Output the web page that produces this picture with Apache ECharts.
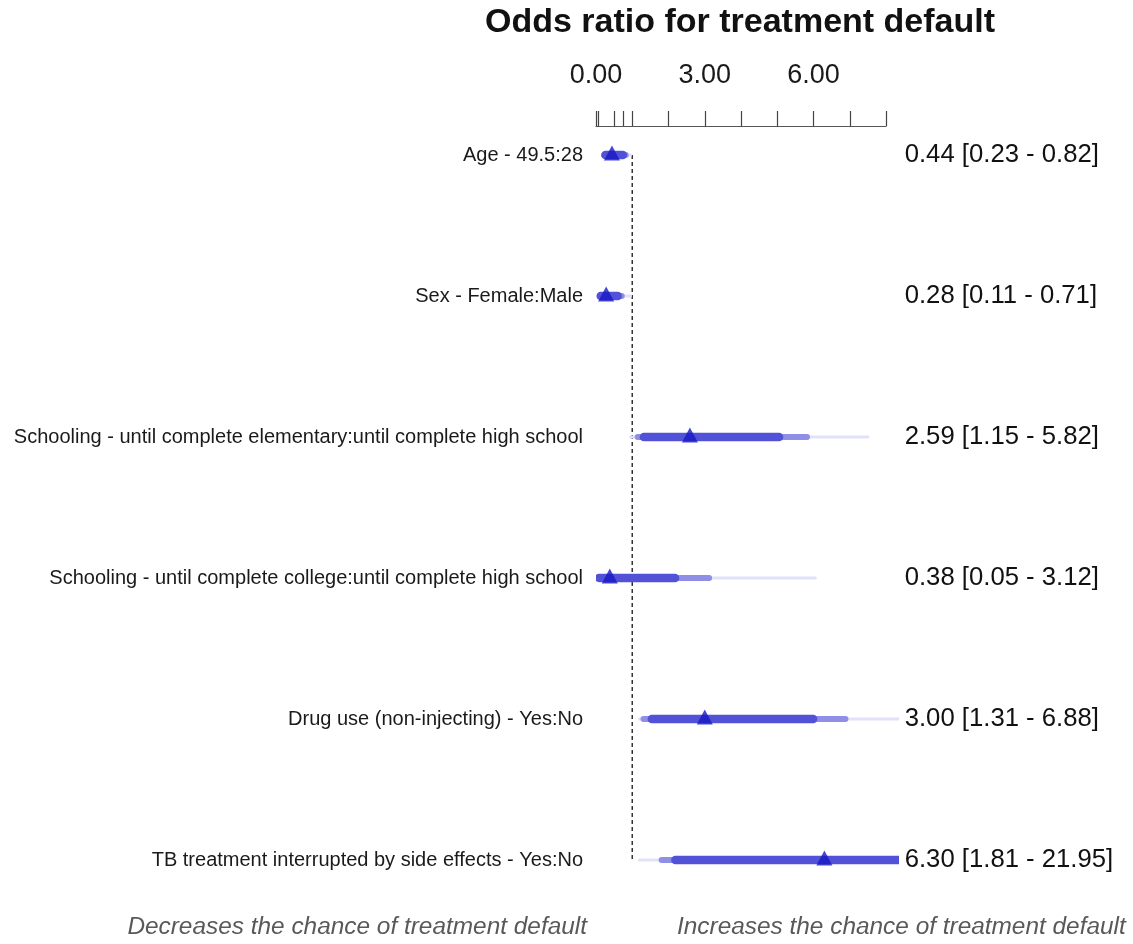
<!DOCTYPE html>
<html>
<head>
<meta charset="utf-8">
<script src="https://cdn.jsdelivr.net/npm/echarts@6/dist/echarts.min.js"></script>
<style>
  html, body { margin: 0; padding: 0; background: #fff; }
  #chart { width: 1133px; height: 944px; }
</style>
</head>
<body>
<div id="chart"></div>
<script>
// rows of the forest plot, top to bottom
const rowLabels = [
  'Age - 49.5:28',
  'Sex - Female:Male',
  'Schooling - until complete elementary:until complete high school',
  'Schooling - until complete college:until complete high school',
  'Drug use (non-injecting) - Yes:No',
  'TB treatment interrupted by side effects - Yes:No'
];
const oddsRatio = [0.44, 0.28, 2.59, 0.38, 3.00, 6.30];
// 95% interval (printed on the right)
const lo95 = [0.23, 0.11, 1.15, 0.05, 1.31, 1.81];
const hi95 = [0.82, 0.71, 5.82, 3.12, 6.88, 21.95];
// 90% interval (dark thick band)
const lo90 = [0.26, 0.13, 1.32, 0.08, 1.54, 2.19];
const hi90 = [0.74, 0.60, 5.05, 2.18, 5.99, 18.12];
// 99% interval (light thin band)
const lo99 = [0.18, 0.08, 0.95, 0.02, 1.20, 1.20];
const hi99 = [0.95, 0.95, 7.50, 6.05, 8.93, 30.1];

const tickValues = [0, 0.05, 0.5, 0.75, 1, 2, 3, 4, 5, 6, 7, 8];
const tickLabels = [0, 3, 6];

const font = "'Liberation Sans', Arial, sans-serif";

const rightLabels = oddsRatio.map((v, i) =>
  `${v.toFixed(2)} [${lo95[i].toFixed(2)} - ${hi95[i].toFixed(2)}]`);

const bandData = rowLabels.map((_, i) =>
  [i, lo99[i], hi99[i], lo95[i], hi95[i], lo90[i], hi90[i]]);

const chart = echarts.init(document.getElementById('chart'));

const option = {
  backgroundColor: '#ffffff',
  animation: false,
  textStyle: { fontFamily: font },
  grid: [
    // axis only
    { left: 596, top: 125, width: 290, height: 1 },
    // data area (a bit wider than the drawn axis, marks clip at its edge)
    { left: 596, top: 84.5, width: 302.7, height: 846 }
  ],
  xAxis: [
    {
      gridIndex: 0,
      type: 'value',
      position: 'top',
      min: 0,
      max: 8,
      splitLine: { show: false },
      axisLine: { show: true, lineStyle: { color: '#555', width: 1.2 } },
      axisTick: {
        show: true,
        length: 15,
        customValues: tickValues,
        lineStyle: { color: '#444', width: 1.2 }
      },
      axisLabel: {
        customValues: tickLabels,
        margin: 36,
        fontSize: 27,
        color: '#1a1a1a',
        fontFamily: font,
        formatter: v => v.toFixed(2)
      }
    },
    {
      gridIndex: 1,
      type: 'value',
      min: 0,
      max: 8.35,
      show: false
    }
  ],
  yAxis: [
    { gridIndex: 0, type: 'value', show: false },
    {
      gridIndex: 1,
      type: 'category',
      data: rowLabels,
      inverse: true,
      axisLine: { show: false },
      axisTick: { show: false },
      splitLine: { show: false },
      axisLabel: {
        margin: 13,
        fontSize: 20,
        color: '#1a1a1a',
        fontFamily: font
      }
    },
    {
      gridIndex: 1,
      type: 'category',
      position: 'right',
      data: rightLabels,
      inverse: true,
      axisLine: { show: false },
      axisTick: { show: false },
      splitLine: { show: false },
      axisLabel: {
        margin: 6,
        fontSize: 25.7,
        color: '#111',
        fontFamily: font
      }
    }
  ],
  graphic: [
    {
      type: 'text',
      style: {
        x: 740, y: 23,
        text: 'Odds ratio for treatment default',
        textAlign: 'center', textVerticalAlign: 'middle',
        font: `bold 34px ${font}`,
        fill: '#111'
      }
    },
    {
      type: 'text',
      style: {
        x: 587, y: 927,
        text: 'Decreases the chance of treatment default',
        textAlign: 'right', textVerticalAlign: 'middle',
        font: `italic 24.4px ${font}`,
        fill: '#595959'
      }
    },
    {
      type: 'text',
      style: {
        x: 677, y: 927,
        text: 'Increases the chance of treatment default',
        textAlign: 'left', textVerticalAlign: 'middle',
        font: `italic 24.4px ${font}`,
        fill: '#595959'
      }
    }
  ],
  series: [
    {
      // reference line at OR = 1
      type: 'line',
      xAxisIndex: 1,
      yAxisIndex: 1,
      data: [[1, 0], [1, rowLabels.length - 1]],
      symbol: 'none',
      lineStyle: { color: '#333', width: 1.5, type: [4, 3] },
      z: 1
    },
    {
      type: 'custom',
      xAxisIndex: 1,
      yAxisIndex: 1,
      clip: true,
      encode: { x: [1, 2, 3, 4, 5, 6], y: 0 },
      data: bandData,
      renderItem(params, api) {
        const seg = (lo, hi, w, color) => {
          const a = api.coord([api.value(lo), api.value(0)]);
          const b = api.coord([api.value(hi), api.value(0)]);
          return {
            type: 'line',
            shape: { x1: a[0], y1: a[1], x2: b[0], y2: b[1] },
            style: { stroke: color, lineWidth: w, lineCap: 'round' }
          };
        };
        return {
          type: 'group',
          children: [
            seg(1, 2, 3, '#e1e1fa'),
            seg(3, 4, 6, '#8f8fe8'),
            seg(5, 6, 8.5, '#5252d8')
          ]
        };
      },
      z: 2
    },
    {
      type: 'scatter',
      xAxisIndex: 1,
      yAxisIndex: 1,
      data: oddsRatio.map((v, i) => [v, i]),
      symbol: 'triangle',
      symbolSize: [16, 15],
      symbolOffset: [0, -2],
      itemStyle: { color: '#1818c4' },
      z: 3
    }
  ]
};

chart.setOption(option);
</script>
</body>
</html>
